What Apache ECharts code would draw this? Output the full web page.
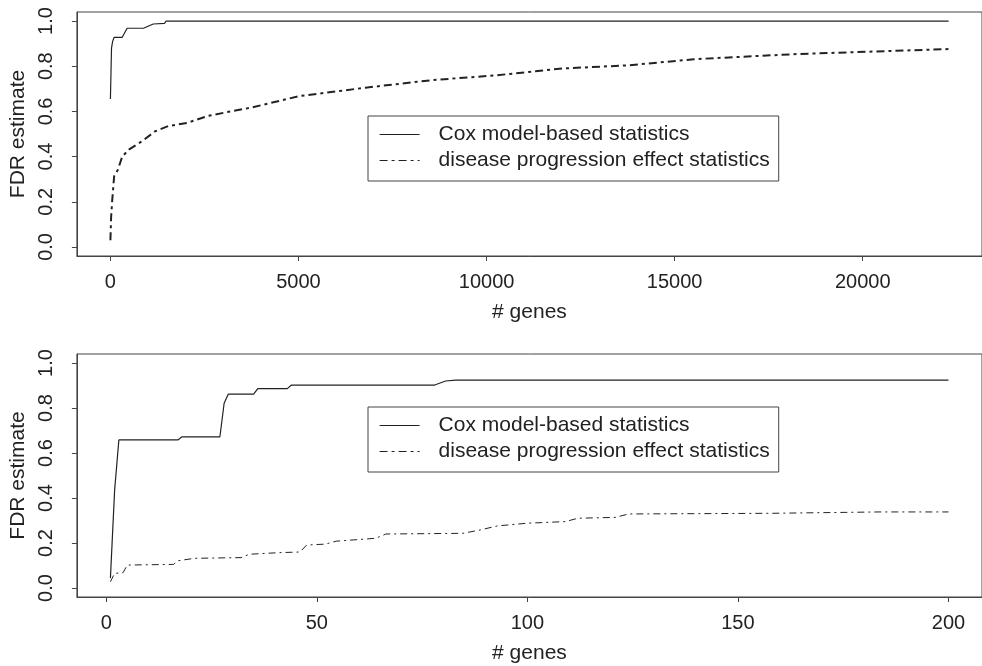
<!DOCTYPE html>
<html lang="en">
<head>
    <meta charset="UTF-8">
    <title>FDR estimate vs # genes</title>
    <script src="https://cdn.jsdelivr.net/npm/echarts@6.0.0/dist/echarts.min.js"></script>
    <style>
        html, body { margin: 0; padding: 0; background: #fff; }
        #main { width: 982px; height: 666px; }
    </style>
</head>
<body>
    <div id="main"></div>
    <script>
        // top panel: all genes
        var topCoxX = [1, 30, 60, 100, 315, 360, 445, 880, 925, 1140, 1440, 1480, 22283];
        var topCoxY = [0.655, 0.88, 0.91, 0.928, 0.928, 0.935, 0.968, 0.968, 0.975, 0.987, 0.99, 1.0, 1.0];
        var topDpeX = [1, 20, 50, 100, 200, 315, 490, 840, 1190, 1540, 2060, 2590, 3110, 3720, 5030, 6780, 8520, 10270, 12020, 13760, 15510, 18130, 20310, 22283];
        var topDpeY = [0.03, 0.135, 0.209, 0.313, 0.342, 0.40, 0.431, 0.468, 0.512, 0.535, 0.55, 0.58, 0.597, 0.616, 0.668, 0.705, 0.738, 0.76, 0.79, 0.804, 0.831, 0.853, 0.865, 0.876];
        // bottom panel: first 200 genes
        var botCoxX = [1, 2, 3, 17, 18, 27, 28, 29, 35, 36, 43, 44, 78, 80.6, 83, 200];
        var botCoxY = [0.044, 0.435, 0.658, 0.658, 0.672, 0.672, 0.821, 0.862, 0.862, 0.886, 0.886, 0.902, 0.902, 0.92, 0.924, 0.924];
        var botDpeX = [1, 2, 4, 5, 16, 17, 21, 32, 34, 41, 46, 47.6, 52, 54.6, 64, 66.4, 84.7, 88.8, 92.9, 100, 109, 112, 121, 124, 158, 183.5, 200];
        var botDpeY = [0.028, 0.065, 0.068, 0.102, 0.105, 0.121, 0.132, 0.135, 0.15, 0.157, 0.16, 0.191, 0.195, 0.208, 0.221, 0.24, 0.243, 0.258, 0.276, 0.288, 0.295, 0.31, 0.314, 0.329, 0.332, 0.338, 0.338];

        var yTicks = [0, 0.2, 0.4, 0.6, 0.8, 1.0];
        var topXTicks = [0, 5000, 10000, 15000, 20000];
        var botXTicks = [0, 50, 100, 150, 200];
        var names = ['Cox model-based statistics', 'disease progression effect statistics'];

        function zip(xs, ys) {
            return xs.map(function (x, i) { return [x, ys[i]]; });
        }

        var font = "'Liberation Sans', Arial, sans-serif";
        var ink = '#222';
        var frame = '#444';

        function xAxis(idx, min, max, ticks) {
            return {
                type: 'value', gridIndex: idx, min: min, max: max,
                name: '# genes', nameLocation: 'middle', nameGap: 46,
                nameTextStyle: { color: ink, fontSize: 21, fontFamily: font },
                axisLine: { show: true, onZero: false, lineStyle: { color: frame, width: 1 } },
                axisTick: { show: true, length: 5, customValues: ticks, lineStyle: { color: frame } },
                axisLabel: {
                    customValues: ticks, margin: 16, color: ink, fontSize: 20, fontFamily: font,
                    formatter: function (v) { return String(v); }
                },
                splitLine: { show: false }
            };
        }

        function yAxis(idx) {
            return {
                type: 'value', gridIndex: idx, min: -0.04, max: 1.04,
                name: 'FDR estimate', nameLocation: 'middle', nameGap: 35, nameRotate: 90,
                nameTextStyle: { color: ink, fontSize: 21, fontFamily: font },
                axisLine: { show: true, onZero: false, lineStyle: { color: frame, width: 1 } },
                axisTick: { show: true, length: 5, customValues: yTicks, lineStyle: { color: frame } },
                axisLabel: {
                    customValues: yTicks, rotate: 90, margin: 20, color: ink, fontSize: 20, fontFamily: font,
                    formatter: function (v) { return v.toFixed(1); }
                },
                splitLine: { show: false }
            };
        }

        function legend(idx, top) {
            return {
                orient: 'vertical', left: 368, top: top,
                data: names,
                borderColor: frame, borderWidth: 1,
                padding: [8, 9, 10, 11],
                itemWidth: 40, itemHeight: 14, itemGap: 5,
                itemStyle: { opacity: 0 },
                lineStyle: { width: 1.2, color: ink },
                textStyle: { color: ink, fontSize: 21, fontFamily: font, padding: [0, 0, 0, 14] },
                selectedMode: false
            };
        }

        var solid = { color: ink, width: 1.2, type: 'solid' };
        var dotdashTop = { color: ink, width: 2, type: [8, 4, 3, 4] };
        var dotdashBot = { color: ink, width: 1, type: [7, 4, 2, 4] };

        var myChart = echarts.init(document.getElementById('main'), null, { renderer: 'canvas' });
        var option = {
            backgroundColor: '#fff',
            animation: false,
            grid: [
                { left: 74, top: 12, width: 918, height: 244, show: true, borderColor: frame, borderWidth: 1, backgroundColor: 'transparent' },
                { left: 74, top: 354, width: 918, height: 243, show: true, borderColor: frame, borderWidth: 1, backgroundColor: 'transparent' }
            ],
            xAxis: [xAxis(0, -890, 23170, topXTicks), xAxis(1, -6.96, 207.96, botXTicks)],
            yAxis: [yAxis(0), yAxis(1)],
            legend: [legend(0, 116), legend(1, 407)],
            series: [
                { name: names[0], type: 'line', xAxisIndex: 0, yAxisIndex: 0, symbol: 'none', lineStyle: solid, itemStyle: { color: ink }, data: zip(topCoxX, topCoxY) },
                { name: names[1], type: 'line', xAxisIndex: 0, yAxisIndex: 0, symbol: 'none', lineStyle: dotdashTop, itemStyle: { color: ink }, data: zip(topDpeX, topDpeY) },
                { name: names[0], type: 'line', xAxisIndex: 1, yAxisIndex: 1, symbol: 'none', lineStyle: solid, itemStyle: { color: ink }, data: zip(botCoxX, botCoxY) },
                { name: names[1], type: 'line', xAxisIndex: 1, yAxisIndex: 1, symbol: 'none', lineStyle: dotdashBot, itemStyle: { color: ink }, data: zip(botDpeX, botDpeY) }
            ]
        };
        myChart.setOption(option);
    </script>
</body>
</html>
